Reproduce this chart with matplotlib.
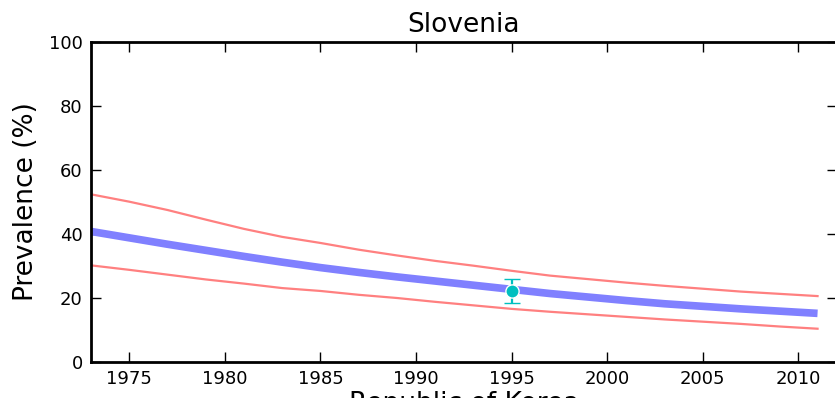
import matplotlib
matplotlib.use("Agg")
import matplotlib.pyplot as plt
import numpy as np

years = [1973, 1975, 1977, 1979, 1981, 1983, 1985, 1987, 1989, 1991, 1993, 1995, 1997,
         1999, 2001, 2003, 2005, 2007, 2009, 2011]
central = [40.8, 38.8, 36.8, 34.9, 33.0, 31.2, 29.5, 28.0, 26.6, 25.3, 24.0, 22.7, 21.4,
           20.3, 19.2, 18.2, 17.4, 16.6, 15.9, 15.2]
upper = [52.4, 50.1, 47.5, 44.5, 41.6, 39.1, 37.2, 35.1, 33.3, 31.6, 30.1, 28.5, 27.0,
         25.9, 24.8, 23.8, 22.9, 22.0, 21.3, 20.6]
lower = [30.2, 28.8, 27.3, 25.8, 24.5, 23.1, 22.2, 21.0, 20.0, 18.8, 17.7, 16.6, 15.7,
         14.9, 14.1, 13.3, 12.6, 11.9, 11.1, 10.4]

survey_year = [1995]
survey_value = [22.3]
survey_low = [18.4]
survey_high = [26.0]

fig = plt.figure(figsize=(8.35, 3.98), dpi=100)
ax = fig.add_axes([91/835, 1 - 362/398, (835 - 91)/835 + 0.002, (362 - 42)/398])

ax.plot(years, upper, color="#ff8080", lw=1.6)
ax.plot(years, lower, color="#ff8080", lw=1.6)
ax.plot(years, central, color="#8080ff", lw=5.5, solid_capstyle="butt")

yerr = [[v - l for v, l in zip(survey_value, survey_low)],
        [h - v for v, h in zip(survey_value, survey_high)]]
ax.errorbar(survey_year, survey_value, yerr=yerr, fmt="o", color="#00bfbf",
            ms=9.5, mec="white", mew=1.0, ecolor="#00bfbf", elinewidth=1.6,
            capsize=6, capthick=1.6, zorder=5)

ax.set_xlim(1973, 2012)
ax.set_ylim(0, 100)
ax.set_xticks(np.arange(1975, 2011, 5))
ax.set_yticks(np.arange(0, 101, 20))
ax.tick_params(direction="in", length=7, width=1, top=True, right=True,
               labelsize=13, pad=6)
for s in ax.spines.values():
    s.set_linewidth(2)

ax.set_title("Slovenia", fontsize=19, pad=7)
ax.set_ylabel("Prevalence (%)", fontsize=19, labelpad=7)
ax.set_xlabel("Republic of Korea", fontsize=19, labelpad=2)

fig.savefig("out.png", dpi=100)
